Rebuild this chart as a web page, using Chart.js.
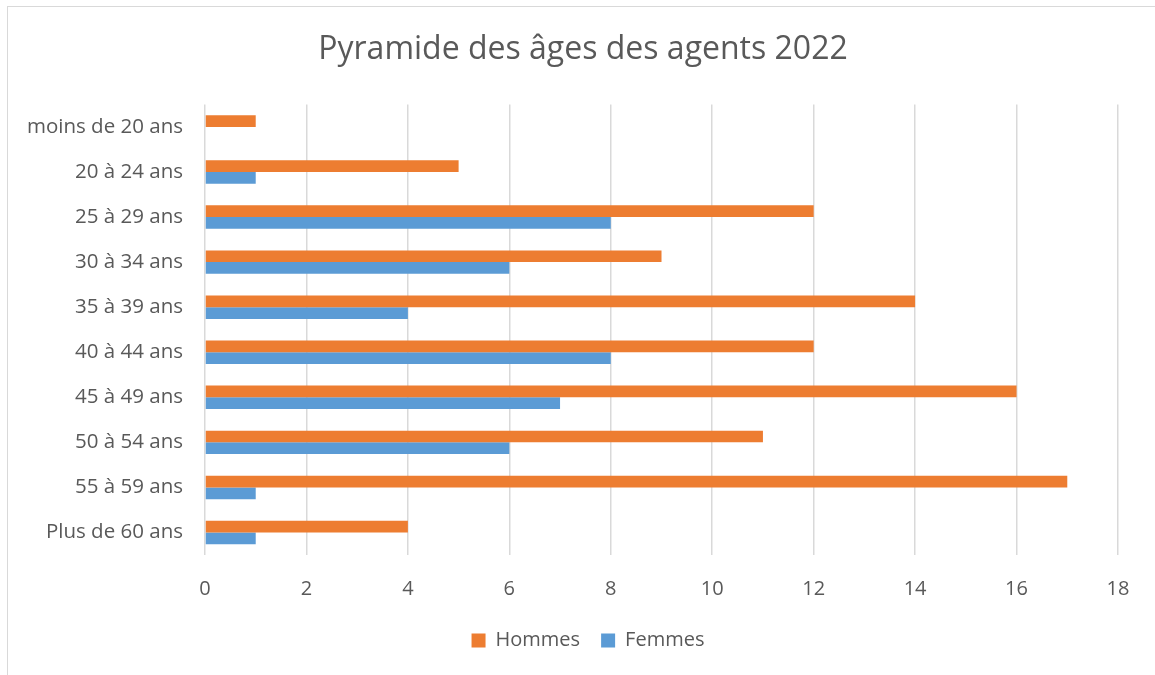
<!DOCTYPE html>
<html>
<head>
<meta charset="utf-8">
<script src="https://cdn.jsdelivr.net/npm/chart.js@4"></script>
<style>
  html, body { margin: 0; padding: 0; background: #fff; }
  #wrap { position: relative; width: 1155px; height: 675px; overflow: hidden; }
  #frame { position: absolute; left: 7px; top: 6px; width: 1200px; height: 700px;
           border-left: 1.5px solid #d9d9d9; border-top: 1.5px solid #d9d9d9; }
  canvas { position: absolute; left: 0; top: 0; }
</style>
</head>
<body>
<div id="wrap">
  <div id="frame"></div>
  <canvas id="chartEl" width="1155" height="675"></canvas>
</div>
<script>
/************ DATA ************/
const categories = [
    "moins de 20 ans", "20 à 24 ans", "25 à 29 ans", "30 à 34 ans", "35 à 39 ans",
    "40 à 44 ans", "45 à 49 ans", "50 à 54 ans", "55 à 59 ans", "Plus de 60 ans"
];
const hommes = [1, 5, 12, 9, 14, 12, 16, 11, 17, 4];
const femmes = [0, 1, 8, 6, 4, 8, 7, 6, 1, 1];
const xTicks = [0, 2, 4, 6, 8, 10, 12, 14, 16, 18];

/************ STYLE ************/
const FONT = "'Open Sans', 'Liberation Sans', sans-serif";
const TEXT = "#595959";
const GRID = "#d9d9d9";

// shift title and legend so they centre over the whole frame, not the plot
const centerBlocks = {
    id: "centerBlocks",
    afterLayout(chart) {
        if (chart.titleBlock) chart.titleBlock.left = 48;
        if (chart.legend) chart.legend.left = 58;
    }
};

/************ CHART ************/
new Chart(document.getElementById("chartEl"), {
    type: "bar",
    data: {
        labels: categories,
        datasets: [
            { label: "Hommes", data: hommes, backgroundColor: "#ed7d31" },
            { label: "Femmes", data: femmes, backgroundColor: "#5b9bd5" }
        ]
    },
    options: {
        indexAxis: "y",
        responsive: false,
        animation: false,
        layout: { padding: { left: 0, right: 37, top: 0, bottom: 14.5 } },
        datasets: { bar: { categoryPercentage: 0.52, barPercentage: 1 } },
        scales: {
            x: {
                min: 0,
                max: 18,
                afterBuildTicks: s => { s.ticks = xTicks.map(v => ({ value: v })); },
                afterFit: s => { s.height = 54.5; },
                grid: { color: GRID, lineWidth: 1.5, drawTicks: false },
                border: { display: false },
                ticks: { color: TEXT, padding: 22.5, font: { family: FONT, size: 20 } }
            },
            y: {
                afterFit: s => { s.width = 205; },
                grid: { display: false, drawTicks: false },
                border: { display: false },
                ticks: { color: TEXT, padding: 22, font: { family: FONT, size: 20.5 } }
            }
        },
        plugins: {
            title: {
                display: true,
                text: "Pyramide des âges des agents 2022",
                color: TEXT,
                font: { family: FONT, size: 32, weight: "normal" },
                padding: { top: 31, bottom: 35 }
            },
            legend: {
                position: "bottom",
                labels: {
                    color: TEXT,
                    boxWidth: 14,
                    boxHeight: 14,
                    padding: 21,
                    font: { family: FONT, size: 20 }
                }
            },
            tooltip: { enabled: false }
        }
    },
    plugins: [centerBlocks]
});
</script>
</body>
</html>
